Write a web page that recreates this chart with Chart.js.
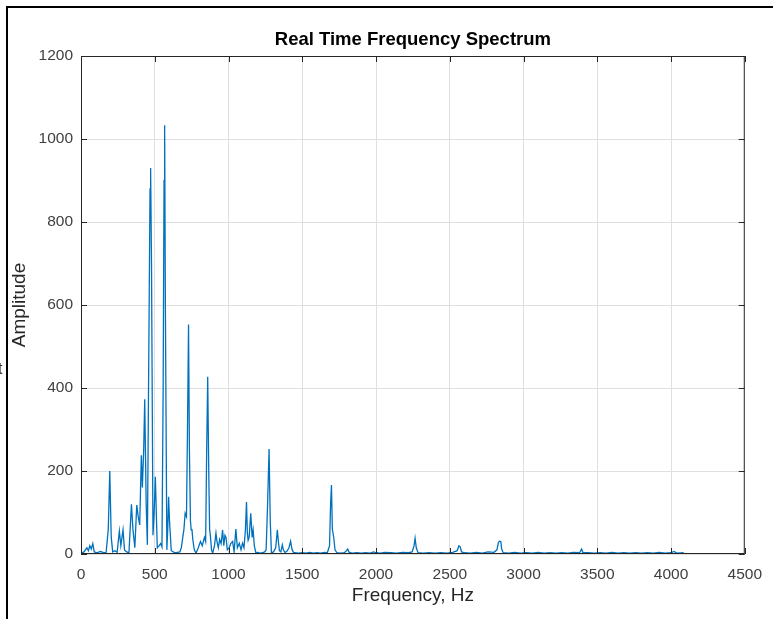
<!DOCTYPE html>
<html>
<head>
<meta charset="utf-8">
<script src="https://cdn.jsdelivr.net/npm/chart.js@4/dist/chart.umd.min.js"></script>
<style>
  html, body { margin: 0; padding: 0; background: #fff; }
  #wrap { width: 773px; height: 619px; }
</style>
</head>
<body>
<div id="wrap"><canvas id="spectrum" width="773" height="619"></canvas></div>
<script>
// spectrum (Hz, amplitude)
const freqs = [
  0, 20, 40, 50, 60, 70, 80, 90, 110, 130, 150, 170, 185, 195, 205, 215, 230, 245, 260, 270,
  285, 295, 310, 325, 342, 352, 365, 378, 388, 398, 409, 416, 425, 432, 442, 450, 460, 468, 472, 478,
  488, 496, 504, 512, 517, 530, 540, 549, 557, 563, 567, 572, 582, 588, 594, 600, 612, 625, 640, 655,
  670, 680, 690, 698, 706, 715, 722, 729, 735, 742, 747, 752, 758, 768, 780, 795, 810, 822, 837, 845,
  852, 859, 866, 872, 877, 885, 893, 905, 915, 922, 931, 940, 950, 960, 968, 976, 983, 992, 1005, 1015,
  1028, 1038, 1050, 1060, 1073, 1085, 1095, 1105, 1115, 1122, 1128, 1133, 1140, 1151, 1160, 1167, 1175, 1185, 1200, 1215,
  1230, 1245, 1255, 1265, 1275, 1283, 1291, 1305, 1320, 1331, 1338, 1345, 1355, 1365, 1372, 1382, 1395, 1410, 1421, 1430,
  1440, 1455, 1475, 1500, 1525, 1550, 1575, 1600, 1625, 1650, 1670, 1685, 1692, 1698, 1704, 1714, 1722, 1735, 1760, 1785,
  1800, 1808, 1818, 1840, 1870, 1900, 1930, 1960, 1984, 2000, 2030, 2060, 2100, 2140, 2180, 2220, 2245, 2258, 2265, 2273,
  2285, 2320, 2360, 2400, 2440, 2480, 2520, 2550, 2562, 2570, 2580, 2600, 2640, 2680, 2720, 2760, 2800, 2820, 2830, 2838,
  2846, 2852, 2862, 2900, 2940, 2980, 3020, 3060, 3100, 3140, 3180, 3220, 3260, 3300, 3340, 3380, 3394, 3402, 3440, 3480,
  3520, 3560, 3600, 3640, 3680, 3720, 3760, 3800, 3840, 3880, 3920, 3960, 4000, 4020, 4040, 4086
];
const amps = [
  2, 5, 15, 8, 20, 12, 25, 5, 3, 6, 4, 3, 60, 200, 40, 5, 8, 4, 55, 20,
  58, 10, 5, 3, 120, 60, 15, 118, 90, 70, 238, 160, 250, 373, 120, 22, 500, 880, 930, 700,
  45, 100, 186, 80, 15, 20, 25, 17, 400, 900, 1033, 600, 10, 60, 138, 80, 8, 5, 3, 4,
  5, 15, 40, 60, 98, 90, 300, 553, 250, 80, 58, 60, 35, 10, 2, 15, 30, 20, 40, 30,
  250, 427, 200, 60, 45, 10, 2, 20, 50, 30, 15, 35, 25, 58, 20, 45, 40, 10, 15, 25,
  30, 5, 60, 15, 26, 10, 26, 15, 60, 125, 50, 33, 40, 98, 40, 58, 20, 3, 4, 2,
  3, 5, 10, 120, 253, 80, 3, 5, 15, 58, 30, 8, 5, 22, 10, 4, 6, 15, 31, 12,
  4, 3, 2, 3, 2, 4, 2, 3, 2, 4, 3, 20, 120, 166, 60, 38, 10, 3, 2, 3,
  8, 12, 4, 2, 3, 2, 3, 2, 5, 3, 2, 4, 3, 2, 4, 3, 5, 20, 38, 15,
  3, 2, 3, 2, 3, 2, 4, 8, 20, 18, 5, 3, 2, 4, 2, 5, 4, 10, 28, 31,
  30, 12, 3, 2, 4, 2, 3, 2, 4, 2, 3, 2, 3, 2, 4, 3, 12, 4, 3, 2,
  3, 2, 4, 2, 3, 2, 3, 2, 3, 2, 4, 2, 3, 6, 2, 3
];
const xTicks = [0, 500, 1000, 1500, 2000, 2500, 3000, 3500, 4000, 4500];
const yTicks = [0, 200, 400, 600, 800, 1000, 1200];

const points = freqs.map((f, i) => ({ x: f, y: amps[i] }));
const FONT = "'Liberation Sans', Arial, Helvetica, sans-serif";
const AXIS_COLOR = "#262626";

// MATLAB-like box with inward ticks on all four sides, plus the outer frame
const boxPlugin = {
  id: "matlabBox",
  beforeDraw(chart) {
    const { ctx, chartArea: a } = chart;
    ctx.save();
    ctx.fillStyle = "#fff";
    ctx.fillRect(a.left, a.top, a.right - a.left, a.bottom - a.top);
    ctx.restore();
  },
  afterDraw(chart) {
    const { ctx, chartArea: a, scales } = chart;
    ctx.save();
    ctx.strokeStyle = AXIS_COLOR;
    ctx.lineWidth = 1;
    ctx.strokeRect(a.left + 0.5, a.top + 0.5, a.right - a.left - 1, a.bottom - a.top - 1);
    ctx.beginPath();
    xTicks.forEach((t) => {
      const x = Math.round(scales.x.getPixelForValue(t)) + 0.5;
      ctx.moveTo(x, a.bottom); ctx.lineTo(x, a.bottom - 6);
      ctx.moveTo(x, a.top); ctx.lineTo(x, a.top + 6);
    });
    yTicks.forEach((t) => {
      const y = Math.round(scales.y.getPixelForValue(t)) + 0.5;
      ctx.moveTo(a.left, y); ctx.lineTo(a.left + 6, y);
      ctx.moveTo(a.right, y); ctx.lineTo(a.right - 6, y);
    });
    ctx.stroke();

    // outer frame of the screenshot
    ctx.strokeStyle = "#000";
    ctx.lineWidth = 2;
    ctx.beginPath();
    ctx.moveTo(7, 619);
    ctx.lineTo(7, 7);
    ctx.lineTo(773, 7);
    ctx.stroke();

    // clipped text fragment on the left edge
    ctx.fillStyle = "#333";
    ctx.font = "16px " + FONT;
    ctx.textBaseline = "middle";
    ctx.fillText("t", -2, 370);
    ctx.restore();
  }
};

new Chart(document.getElementById("spectrum"), {
  type: "line",
  data: {
    datasets: [
      {
        data: points,
        borderColor: "#0072BD",
        borderWidth: 1.3,
        pointRadius: 0,
        tension: 0,
        fill: false
      }
    ]
  },
  options: {
    responsive: false,
    animation: false,
    layout: { padding: { left: 0, right: 25, top: 0, bottom: 0 } },
    plugins: {
      legend: { display: false },
      tooltip: { enabled: false },
      title: {
        display: true,
        text: "Real Time Frequency Spectrum",
        fullSize: false,
        color: "#000",
        font: { family: FONT, size: 18.5, weight: "bold", lineHeight: 1.2 },
        padding: { top: 29, bottom: 4.8 }
      }
    },
    scales: {
      x: {
        type: "linear",
        min: 0,
        max: 4500,
        afterFit: (scale) => { scale.height = 65; },
        afterBuildTicks: (scale) => { scale.ticks = xTicks.map((v) => ({ value: v })); },
        grid: { color: "#dfdfdf", drawTicks: false },
        border: { display: false },
        ticks: {
          color: "#404040",
          padding: 11,
          maxRotation: 0,
          font: { family: FONT, size: 15.5 },
          callback: (v) => String(v)
        },
        title: {
          display: true,
          text: "Frequency, Hz",
          color: "#262626",
          font: { family: FONT, size: 19, lineHeight: 1.2 },
          padding: { top: 0, bottom: 11.6 }
        }
      },
      y: {
        min: 0,
        max: 1200,
        afterFit: (scale) => { scale.width = 81; },
        afterBuildTicks: (scale) => { scale.ticks = yTicks.map((v) => ({ value: v })); },
        grid: { color: "#dfdfdf", drawTicks: false },
        border: { display: false },
        ticks: {
          color: "#404040",
          padding: 8,
          font: { family: FONT, size: 15.5 },
          callback: (v) => String(v)
        },
        title: {
          display: true,
          text: "Amplitude",
          color: "#262626",
          font: { family: FONT, size: 19, lineHeight: 1.2 },
          padding: { top: 8.6, bottom: 0 }
        }
      }
    }
  },
  plugins: [boxPlugin]
});
</script>
</body>
</html>
